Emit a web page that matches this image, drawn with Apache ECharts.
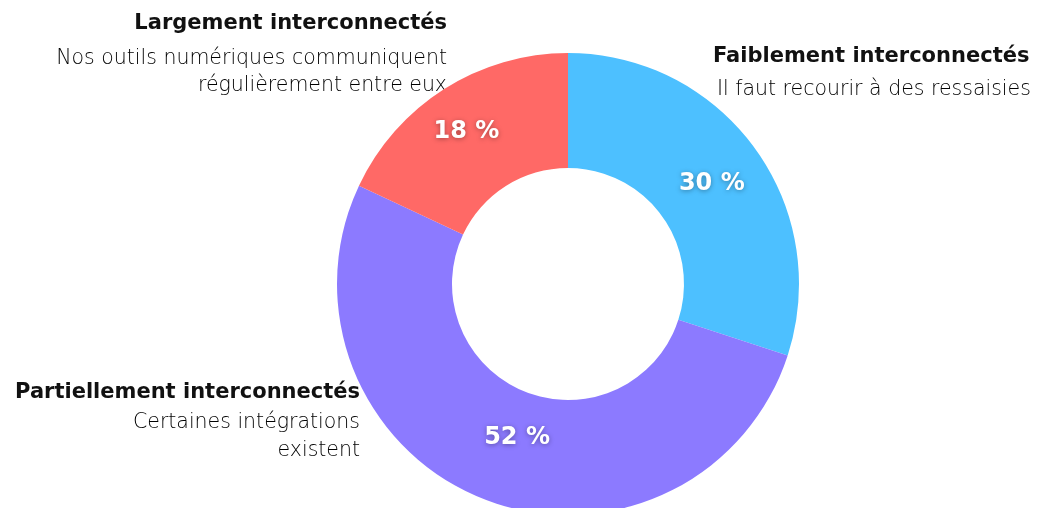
<!DOCTYPE html>
<html>
<head>
<meta charset="utf-8">
<script src="https://cdn.jsdelivr.net/npm/echarts@6/dist/echarts.min.js"></script>
<style>
html,body{margin:0;padding:0;background:#fff;}
#chart{width:1038px;height:508px;}
</style>
</head>
<body>
<div id="chart"></div>
<script>
const categories = ['Faiblement interconnectés', 'Partiellement interconnectés', 'Largement interconnectés'];
const values = [30, 52, 18];
const descriptions = [
  'Il faut recourir à des ressaisies',
  'Certaines intégrations\nexistent',
  'Nos outils numériques communiquent\nrégulièrement entre eux'
];
const colors = ['#4DC0FF', '#8C7AFF', '#FF6966'];

const FONT = '"DejaVu Sans", sans-serif';

// annotation placement (layout only)
const annot = [
  { tx: 713, ty: 57, dx: 717, dy: 76, align: 'left', lh: 27 },
  { tx: 360, ty: 393, dx: 360, dy: 409, align: 'right', lh: 28 },
  { tx: 447, ty: 24, dx: 447, dy: 45, align: 'right', lh: 27 }
];
// small nudges of the in-slice labels (layout only)
const labelNudge = [[1, 4], [14, -10], [-7, -3]];

const graphic = [];
categories.forEach((c, i) => {
  const a = annot[i];
  graphic.push({
    type: 'text', x: a.tx, y: a.ty,
    style: { text: c, textAlign: a.align, textVerticalAlign: 'middle',
      font: 'bold 21px ' + FONT, fill: '#111' }
  });
  graphic.push({
    type: 'text', x: a.dx, y: a.dy,
    style: { text: descriptions[i], textAlign: a.align, textVerticalAlign: 'top',
      font: '300 20.5px ' + FONT, fill: '#000', lineHeight: a.lh }
  });
});

const chart = echarts.init(document.getElementById('chart'), null, { renderer: 'canvas' });
chart.setOption({
  animation: false,
  graphic: graphic,
  series: [{
    type: 'pie',
    center: [568, 284],
    radius: [116, 231],
    startAngle: 90,
    clockwise: true,
    avoidLabelOverlap: false,
    label: {
      show: true,
      position: 'inside',
      formatter: p => p.value + ' %',
      color: '#fff',
      fontFamily: FONT,
      fontWeight: 'bold',
      fontSize: 24,
      textShadowColor: 'rgba(0,0,0,0.35)',
      textShadowBlur: 5,
      textShadowOffsetY: 1
    },
    labelLayout: p => ({ dx: labelNudge[p.dataIndex][0], dy: labelNudge[p.dataIndex][1] }),
    labelLine: { show: false },
    emphasis: { disabled: true },
    itemStyle: { borderWidth: 0 },
    data: categories.map((c, i) => ({ name: c, value: values[i], itemStyle: { color: colors[i] } }))
  }]
});
</script>
</body>
</html>
